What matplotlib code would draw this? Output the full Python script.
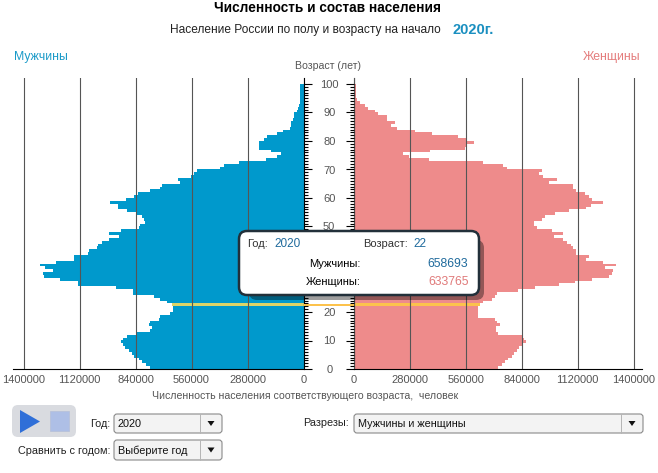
import matplotlib
matplotlib.use('Agg')
import matplotlib.pyplot as plt
from matplotlib.patches import FancyBboxPatch, Polygon, Rectangle

plt.rcParams['font.family'] = ['Liberation Sans', 'DejaVu Sans']

W, H = 658, 473

# index = age, 0..99
men = [767000, 788000, 808000, 825000, 847000, 858000, 875000, 892000, 903000, 912000,
       903000, 883000, 833000, 767000, 758000, 775000, 767000, 725000, 717000, 667000,
       653000, 653000, 658693, 683000, 720000, 747000, 853000, 853000, 937000, 1130000,
       1130000, 1217000, 1300000, 1303000, 1253000, 1295000, 1320000, 1238000, 1147000, 1147000,
       1080000, 1075000, 1033000, 1030000, 1008000, 975000, 925000, 973000, 913000, 825000,
       817000, 792000, 800000, 808000, 837000, 883000, 927000, 927000, 970000, 887000,
       850000, 827000, 767000, 720000, 710000, 617000, 627000, 563000, 550000, 533000,
       420000, 397000, 325000, 187000, 133000, 112000, 163000, 222000, 222000, 222000,
       200000, 183000, 133000, 103000, 67000, 62000, 62000, 53000, 50000, 50000,
       33000, 28000, 22000, 20000, 17000, 17000, 17000, 17000, 17000, 17000]
women = [723000, 740000, 757000, 773000, 790000, 802000, 815000, 828000, 845000, 862000,
         852000, 840000, 723000, 710000, 710000, 732000, 715000, 707000, 623000, 623000,
         620000, 623000, 633765, 648000, 690000, 707000, 715000, 823000, 907000, 1028000,
         1107000, 1190000, 1278000, 1290000, 1295000, 1257000, 1312000, 1245000, 1162000, 1178000,
         1112000, 1112000, 1098000, 1085000, 1068000, 1048000, 1002000, 1048000, 990000, 918000,
         902000, 902000, 940000, 957000, 1007000, 1078000, 1162000, 1185000, 1245000, 1190000,
         1178000, 1157000, 1112000, 1098000, 1095000, 978000, 1015000, 948000, 928000, 940000,
         765000, 748000, 648000, 377000, 278000, 248000, 382000, 557000, 568000, 602000,
         568000, 523000, 390000, 307000, 218000, 187000, 207000, 165000, 165000, 123000,
         107000, 73000, 57000, 32000, 15000, 10000, 10000, 10000, 10000, 10000]
ages = list(range(100))
x_ticks = [0, 280000, 560000, 840000, 1120000, 1400000]
age_ticks = [0, 10, 20, 30, 40, 50, 60, 70, 80, 90, 100]
sel_age = 22
sel_year = 2020

BLUE = '#0099cc'
PINK = '#ee8b8b'
GREY = '#555555'


def px_axes(fig, x0, x1, y_top, y_bot):
    return fig.add_axes([x0 / W, 1 - y_bot / H, (x1 - x0) / W, (y_bot - y_top) / H])


def style_side(ax):
    ax.set_ylim(0, 102)
    ax.set_xticks(x_ticks)
    ax.set_xticklabels([str(v) for v in x_ticks])
    ax.tick_params(axis='x', length=0, labelsize=8, labelcolor=GREY, pad=4)
    ax.xaxis.grid(True, color='#555555', linewidth=0.8)
    ax.set_axisbelow(False)
    ax.set_yticks(age_ticks)
    ax.set_yticks(ages, minor=True)
    for s in ['top', 'left', 'right', 'bottom']:
        ax.spines[s].set_visible(False)
    ax.spines['bottom'].set_visible(True)
    ax.patch.set_alpha(0)


fig = plt.figure(figsize=(W / 100, H / 100), dpi=100, facecolor='white')

# left side - men
ax_m = px_axes(fig, 13, 303.5, 78.3, 369)
ax_m.barh(ages, men, height=1.0, align='edge', color=BLUE, linewidth=0)
ax_m.barh(sel_age, men[sel_age], height=1.0, align='edge', color='#dcd468', linewidth=0)
ax_m.set_xlim(290.5 * 5000, 0)
style_side(ax_m)
ax_m.spines['right'].set_visible(True)
ax_m.yaxis.tick_right()
ax_m.tick_params(axis='y', which='major', length=5.5, width=0.8, pad=13, labelsize=8, labelcolor=GREY)
ax_m.tick_params(axis='y', which='minor', length=2.8, width=0.8)
for lab in ax_m.get_yticklabels():
    lab.set_ha('center')

# right side - women
ax_f = px_axes(fig, 353.7, 642, 78.3, 369)
ax_f.barh(ages, women, height=1.0, align='edge', color=PINK, linewidth=0)
ax_f.barh(sel_age, women[sel_age], height=1.0, align='edge', color='#fcc24c', linewidth=0)
ax_f.set_xlim(0, 288.3 * 5000)
style_side(ax_f)
ax_f.spines['left'].set_visible(True)
ax_f.tick_params(axis='y', which='major', length=5.5, width=0.8, labelleft=False)
ax_f.tick_params(axis='y', which='minor', length=2.8, width=0.8)

# everything else is placed in pixels
ov = fig.add_axes([0, 0, 1, 1])
ov.set_xlim(0, W)
ov.set_ylim(H, 0)
ov.axis('off')
ov.patch.set_alpha(0)

ov.text(328, 8.5, 'Численность и состав населения', ha='center', va='center',
        fontsize=9.8, fontweight='bold', color='black')
ov.text(170, 30, 'Население России по полу и возрасту на начало', ha='left', va='center',
        fontsize=8.6, color='#222222')
ov.text(473, 30, '2020г.', ha='center', va='center', fontsize=10.5, fontweight='bold', color='#1a8fc0')
ov.text(41, 57, 'Мужчины', ha='center', va='center', fontsize=8.8, color='#1a9ac8')
ov.text(612, 57, 'Женщины', ha='center', va='center', fontsize=8.8, color='#e47c7c')
ov.text(328, 66, 'Возраст (лет)', ha='center', va='center', fontsize=7.6, color=GREY)
ov.text(305.5, 396, 'Численность населения соответствующего возраста,  человек', ha='center', va='center',
        fontsize=7.6, color=GREY)

# highlight between the two axes
ov.add_patch(Rectangle((303.5, 303.6), 50.2, 2.8, color='#fcc24c', linewidth=0))

# tooltip
ov.add_patch(FancyBboxPatch((249, 240), 235, 60, boxstyle='round,pad=0,rounding_size=8',
                            facecolor='black', alpha=0.38, linewidth=0, mutation_aspect=1))
ov.add_patch(FancyBboxPatch((239, 231), 240, 64, boxstyle='round,pad=0,rounding_size=8',
                            facecolor='white', edgecolor='#22303a', linewidth=1.8))
TIP = 8
ov.text(247, 244, 'Год:', va='center', fontsize=TIP, color='#333333')
ov.text(274, 244, str(sel_year), va='center', fontsize=TIP + 0.5, color='#1f6a9c')
ov.text(363, 244, 'Возраст:', va='center', fontsize=TIP, color='#333333')
ov.text(413, 244, str(sel_age), va='center', fontsize=TIP + 0.5, color='#1f6a9c')
ov.text(361, 263.5, 'Мужчины:', va='center', ha='right', fontsize=TIP, color='black')
ov.text(361, 281.5, 'Женщины:', va='center', ha='right', fontsize=TIP, color='black')
ov.text(468, 263.5, str(men[sel_age]), va='center', ha='right', fontsize=TIP + 0.8, color='#1f6a9c')
ov.text(469, 281.5, str(women[sel_age]), va='center', ha='right', fontsize=TIP + 0.8, color='#e07a7a')

# player controls
ov.add_patch(FancyBboxPatch((12, 405), 64, 32, boxstyle='round,pad=0,rounding_size=6',
                            facecolor='#d9dbe0', linewidth=0))
ov.add_patch(Polygon([(20, 410), (20, 433), (40, 421.5)], facecolor='#2f6fd8', linewidth=0))
ov.add_patch(Rectangle((50, 411), 19, 20, facecolor='#aebfe6', edgecolor='#b5c0d8', linewidth=0.5))


def combo(x0, x1, y0, y1, text):
    ov.add_patch(FancyBboxPatch((x0, y0), x1 - x0, y1 - y0, boxstyle='round,pad=0,rounding_size=3',
                                facecolor='#f3f3f3', edgecolor='#8a8a8a', linewidth=0.8))
    ov.plot([x1 - 22, x1 - 22], [y0, y1], color='#b5b5b5', linewidth=0.7)
    cx = x1 - 11
    cy = (y0 + y1) / 2
    ov.add_patch(Polygon([(cx - 3.5, cy - 2.5), (cx + 3.5, cy - 2.5), (cx, cy + 2.5)], facecolor='#111111', linewidth=0))
    ov.text(x0 + 4, cy + 0.5, text, va='center', fontsize=7.8, color='#111111')


ov.text(110, 423.5, 'Год:', ha='right', va='center', fontsize=7.8, color='#222222')
combo(114, 222, 414, 433, '2020')
ov.text(349, 423, 'Разрезы:', ha='right', va='center', fontsize=7.8, color='#222222')
combo(354, 643, 414, 433, 'Мужчины и женщины')
ov.text(110, 451, 'Сравнить с годом:', ha='right', va='center', fontsize=7.8, color='#222222')
combo(114, 222, 440, 460, 'Выберите год')

fig.savefig('out.png', dpi=100)
